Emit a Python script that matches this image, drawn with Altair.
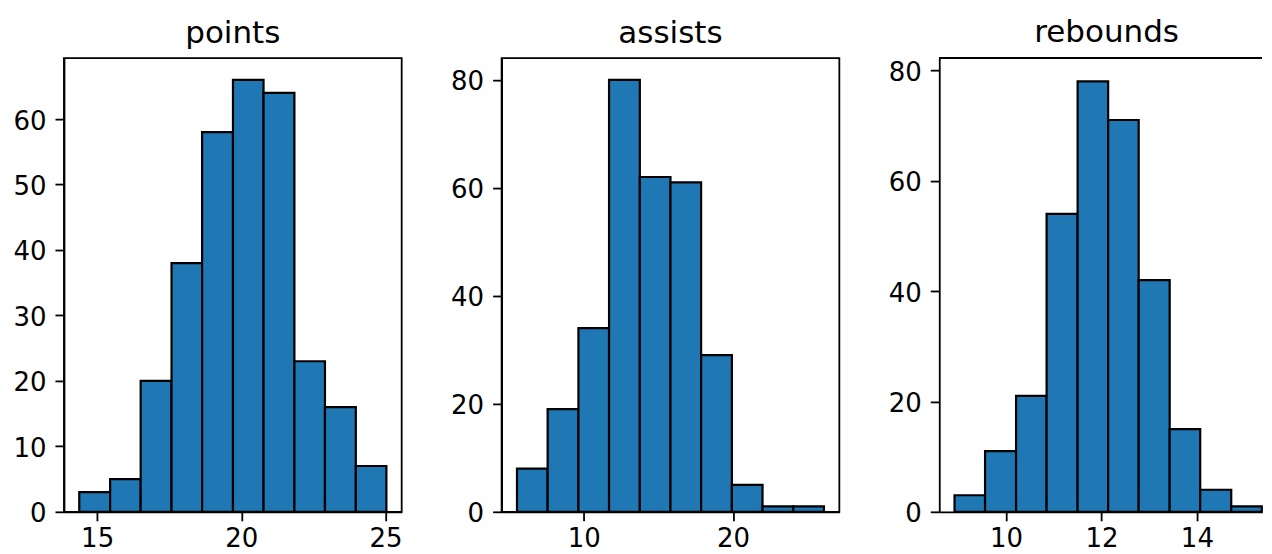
import altair as alt
import pandas as pd

# ---- data ----
points_edges = [14.38, 15.45, 16.51, 17.58, 18.64, 19.71, 20.77, 21.84, 22.90, 23.97, 25.03]
points_counts = [3, 5, 20, 38, 58, 66, 64, 23, 16, 7]

assists_edges = [5.54, 7.59, 9.65, 11.70, 13.76, 15.81, 17.86, 19.92, 21.97, 24.03, 26.08]
assists_counts = [8, 19, 34, 80, 62, 61, 29, 5, 1, 1]

rebounds_edges = [8.92, 9.56, 10.21, 10.85, 11.50, 12.14, 12.78, 13.43, 14.07, 14.72, 15.36]
rebounds_counts = [3, 11, 21, 54, 78, 71, 42, 15, 4, 1]

titles = ["points", "assists", "rebounds"]
# the third panel is cut off by the right edge of the picture
x_domains = [[13.85, 25.56], [4.51, 27.11], [8.60, 15.365]]
x_ticks = [[15, 20, 25], [10, 20], [10, 12, 14]]
y_domains = [[0, 69.3], [0, 84.0], [0, 82.2]]
y_ticks = [[0, 10, 20, 30, 40, 50, 60], [0, 20, 40, 60, 80], [0, 20, 40, 60, 80]]
widths = [338, 338, 323]

FONT = "DejaVu Sans"
PH = 454


def panel(title, edges, counts, xdom, xt, ydom, yt, w, open_right=False):
    df = pd.DataFrame({"start": edges[:-1], "end": edges[1:], "n": counts, "base": [0] * len(counts)})
    bars = (
        alt.Chart(df)
        .mark_bar(fill="#1f77b4", stroke="black", strokeWidth=2.2)
        .encode(
            x=alt.X(
                "start:Q",
                scale=alt.Scale(domain=xdom, nice=False, zero=False),
                axis=alt.Axis(values=xt, title=None, labelPadding=5),
            ),
            x2="end:Q",
            y=alt.Y(
                "n:Q",
                scale=alt.Scale(domain=ydom, nice=False, zero=True),
                axis=alt.Axis(values=yt, title=None, labelPadding=9, labelOffset=2),
            ),
            y2="base:Q",
        )
    )
    if open_right:
        top = alt.Chart(df).mark_rule(color="black", strokeWidth=1.8).encode(
            x=alt.value(0), x2=alt.value(w), y=alt.value(0)
        )
        return (
            alt.layer(bars, top)
            .properties(
                width=w,
                height=PH,
                title=alt.TitleParams(title, dx=6),
                view=alt.ViewBackground(stroke="transparent"),
            )
        )
    return bars.properties(width=w, height=PH, title=title)


charts = [
    panel(titles[0], points_edges, points_counts, x_domains[0], x_ticks[0], y_domains[0], y_ticks[0], widths[0]),
    panel(titles[1], assists_edges, assists_counts, x_domains[1], x_ticks[1], y_domains[1], y_ticks[1], widths[1]),
    panel(titles[2], rebounds_edges, rebounds_counts, x_domains[2], x_ticks[2], y_domains[2], y_ticks[2], widths[2], open_right=True),
]

chart = (
    alt.hconcat(*charts, spacing=100, bounds="flush")
    .properties(padding={"left": 4, "top": 8, "right": 0, "bottom": 0})
    .configure_view(stroke="black", strokeWidth=1.8)
    .configure_axis(
        grid=False,
        labelFont=FONT,
        labelFontSize=26,
        labelColor="black",
        tickColor="black",
        tickSize=9,
        tickWidth=1.8,
        domainColor="black",
        domainWidth=1.8,
        labelFlush=False,
        labelOverlap=False,
    )
    .configure_title(
        font=FONT,
        fontSize=31,
        fontWeight="normal",
        color="black",
        offset=8,
        baseline="alphabetic",
        anchor="middle",
    )
)

chart.save("out.html", embed_options={"renderer": "svg", "actions": False})
